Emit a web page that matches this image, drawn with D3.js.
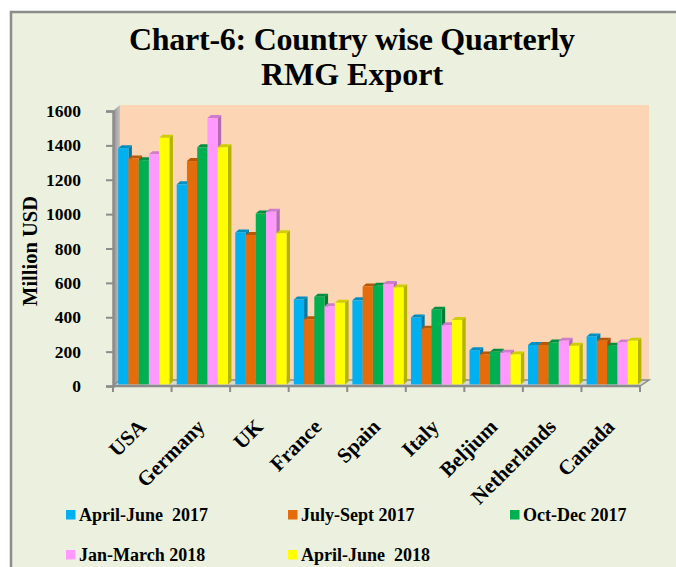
<!DOCTYPE html>
<html>
<head>
<meta charset="utf-8">
<script src="https://cdn.jsdelivr.net/npm/d3@7"></script>
<style>
  body { margin: 0; background: #ffffff; }
  text { font-family: "Liberation Serif", "Times New Roman", serif; font-weight: bold; fill: #000; }
</style>
</head>
<body>
<div id="chart"></div>
<script>
const countries = ["USA", "Germany", "UK", "France", "Spain", "Italy", "Beljium", "Netherlands", "Canada"];
const series = ["April-June  2017", "July-Sept 2017", "Oct-Dec 2017", "Jan-March 2018", "April-June  2018"];
const colors = ["#00b0f0", "#e46c0a", "#00b050", "#ff99ff", "#ffff00"];

// values per series, in country order (Million USD)
const aprJun17 = [1375, 1165, 885, 495, 490, 390, 200, 230, 280];
const julSep17 = [1315, 1300, 870, 380, 570, 325, 175, 230, 255];
const octDec17 = [1305, 1380, 995, 510, 575, 435, 190, 245, 225];
const janMar18 = [1340, 1550, 1005, 455, 585, 345, 185, 255, 245];
const aprJun18 = [1435, 1380, 880, 475, 565, 375, 175, 225, 255];
const values = [aprJun17, julSep17, octDec17, janMar18, aprJun18];

const yTicks = [0, 200, 400, 600, 800, 1000, 1200, 1400, 1600];

const width = 676, height = 567;
const svg = d3.select("#chart").append("svg")
    .attr("width", width)
    .attr("height", height);

// chart area background + border
svg.append("rect")
    .attr("x", 11).attr("y", 12)
    .attr("width", width + 10).attr("height", height + 10)
    .attr("fill", "#ebf1de")
    .attr("stroke", "#8c8c8c")
    .attr("stroke-width", 2.5);

// title
svg.append("text")
    .attr("x", 352).attr("y", 50)
    .attr("text-anchor", "middle")
    .style("font-size", "32px")
    .attr("textLength", 446)
    .text("Chart-6: Country wise Quarterly");
svg.append("text")
    .attr("x", 352).attr("y", 85)
    .attr("text-anchor", "middle")
    .style("font-size", "32px")
    .text("RMG Export");

const x0 = d3.scaleBand().domain(countries).range([113, 640]);
const y = d3.scaleLinear().domain([0, 1600]).range([386, 111]);
const depth = { dx: 7, dy: -6 };

// back wall
svg.append("rect")
    .attr("x", x0.range()[0] + depth.dx)
    .attr("y", y(1600) + depth.dy)
    .attr("width", x0.range()[1] - x0.range()[0] + 2)
    .attr("height", y(0) - y(1600))
    .attr("fill", "#fcd5b5");

// side wall
const sideGrad = svg.append("defs").append("linearGradient")
    .attr("id", "sideGrad").attr("x1", 0).attr("x2", 1);
sideGrad.append("stop").attr("offset", 0).attr("stop-color", "#8f8f8f");
sideGrad.append("stop").attr("offset", 1).attr("stop-color", "#c4c4c4");
const x00 = x0.range()[0];
svg.append("path")
    .attr("d", `M${x00},${y(1600)} L${x00 + depth.dx},${y(1600) + depth.dy} L${x00 + depth.dx},${y(0) + depth.dy} L${x00},${y(0)} Z`)
    .attr("fill", "url(#sideGrad)");

// floor
const x01 = x0.range()[1];
svg.append("path")
    .attr("d", `M${x00},${y(0)} L${x00 + depth.dx},${y(0) + depth.dy} L${x01 + depth.dx + 2},${y(0) + depth.dy} L${x01},${y(0)} Z`)
    .attr("fill", "#d9d9d9")
    .attr("stroke", "#8c8c8c")
    .attr("stroke-width", 1.5);

// bars
const groupW = x0.bandwidth() * 0.875;
const x1 = d3.scaleBand().domain(series).range([0, groupW]);
const bd = { dx: 3.5, dy: -3 };
const shift = { dx: 1.5, dy: -1.5 };

const bars = [];
countries.forEach((c, ci) => {
    series.forEach((s, si) => {
        bars.push({ country: c, s: s, color: colors[si], value: values[si][ci] });
    });
});

const barG = svg.append("g")
    .selectAll("g")
    .data(bars)
    .join("g")
    .attr("transform", d => `translate(${x0(d.country) + (x0.bandwidth() - groupW) / 2 + shift.dx + x1(d.s)},${shift.dy})`);

barG.append("path") // side
    .attr("d", d => {
        const w = x1.bandwidth(), t = y(d.value), b = y(0);
        return `M${w},${t} L${w + bd.dx},${t + bd.dy} L${w + bd.dx},${b + bd.dy} L${w},${b} Z`;
    })
    .attr("fill", d => d3.color(d.color).darker(1.0));
barG.append("path") // top
    .attr("d", d => {
        const w = x1.bandwidth(), t = y(d.value);
        return `M0,${t} L${bd.dx},${t + bd.dy} L${w + bd.dx},${t + bd.dy} L${w},${t} Z`;
    })
    .attr("fill", d => d3.color(d.color).darker(0.6));
barG.append("rect") // front
    .attr("x", 0)
    .attr("y", d => y(d.value))
    .attr("width", x1.bandwidth())
    .attr("height", d => y(0) - y(d.value))
    .attr("fill", d => d.color);

// y axis
const yAxis = svg.append("g")
    .attr("transform", `translate(${x00},0)`)
    .call(d3.axisLeft(y).tickValues(yTicks).tickSize(7).tickPadding(25).tickFormat(d3.format("d")));
yAxis.select(".domain").attr("stroke", "#8c8c8c").attr("stroke-width", 2.5);
yAxis.selectAll(".tick line").attr("stroke", "#8c8c8c").attr("stroke-width", 2);
yAxis.selectAll(".tick text")
    .style("font-size", "17.5px")
    .style("font-family", "'Liberation Serif', serif")
    .style("font-weight", "bold");

// x axis line and ticks at category boundaries
const bounds = countries.map(c => x0(c)).concat([x01]);
svg.append("line")
    .attr("x1", x00).attr("x2", x01)
    .attr("y1", y(0)).attr("y2", y(0))
    .attr("stroke", "#8c8c8c").attr("stroke-width", 2.5);
svg.append("g").selectAll("line")
    .data(bounds)
    .join("line")
    .attr("x1", d => d).attr("x2", d => d)
    .attr("y1", y(0)).attr("y2", y(0) + 6)
    .attr("stroke", "#8c8c8c").attr("stroke-width", 2);

// category labels
svg.append("g").selectAll("text")
    .data(countries)
    .join("text")
    .attr("transform", d => `translate(${x0(d) + x0.bandwidth() / 2 + 5},${428}) rotate(-45)`)
    .attr("text-anchor", "end")
    .style("font-size", "21px")
    .text(d => d);

// y axis title
svg.append("text")
    .attr("transform", "translate(37,251) rotate(-90)")
    .attr("text-anchor", "middle")
    .style("font-size", "20.5px")
    .text("Million USD");

// legend
const legend = svg.append("g").selectAll("g")
    .data(series)
    .join("g")
    .attr("transform", (d, i) => `translate(${66 + (i % 3) * 222},${510 + Math.floor(i / 3) * 40})`);
legend.append("rect")
    .attr("width", 9.5).attr("height", 9.5)
    .attr("fill", (d, i) => colors[i]);
legend.append("text")
    .attr("x", 13).attr("y", 11)
    .style("font-size", "18px")
    .style("white-space", "pre")
    .attr("xml:space", "preserve")
    .text(d => d);
</script>
</body>
</html>
